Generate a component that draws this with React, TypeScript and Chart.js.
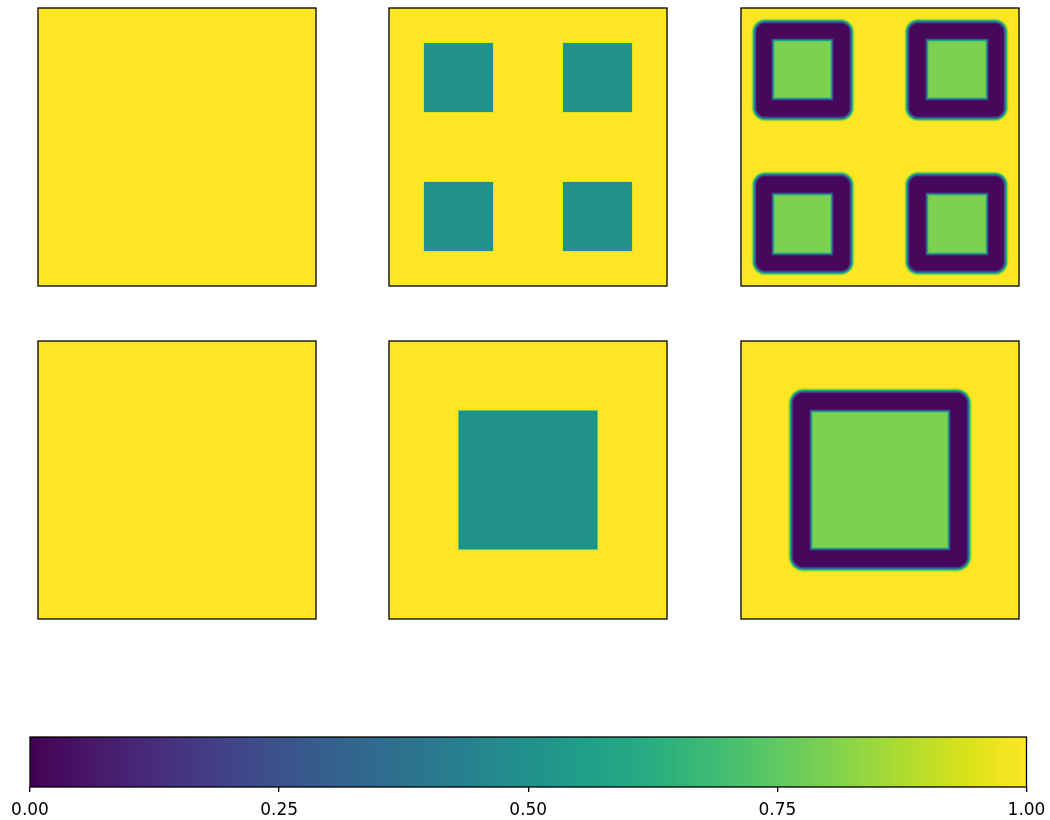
import React, { useEffect, useRef } from "react";
import { Chart, registerables } from "chart.js";

Chart.register(...registerables);

// Viridis colour stops, evenly spaced over [0, 1]
const VIRIDIS_STOPS = [
  "#440154", "#48186a", "#472d7b", "#424086", "#3b528b", "#33638d",
  "#2c728e", "#26828e", "#21918c", "#1fa088", "#28ae80", "#3fbc73",
  "#5ec962", "#84d44b", "#addc30", "#d8e219", "#fde725",
];

// Field levels
const BACKGROUND_LEVEL = 1.0;
const BLOCK_LEVEL = 0.5;
const SHELL_LEVEL = 0.02;
const SHELL_CORE_LEVEL = 0.8;

// Block extents (fractions of the domain): four blocks, or one centred block
const QUAD_BLOCK_EDGES = [[0.125, 0.375], [0.625, 0.875]];
const CENTRE_BLOCK_EDGES = [[0.25, 0.75]];

// Shell extents: dark rounded outer band and light inner core
const QUAD_SHELL_OUTER = [[0.047, 0.399], [0.597, 0.953]];
const QUAD_SHELL_INNER = [[0.115, 0.327], [0.669, 0.885]];
const CENTRE_SHELL_OUTER = [[0.179, 0.821]];
const CENTRE_SHELL_INNER = [[0.252, 0.748]];
const QUAD_SHELL_CORNER = 0.04;
const CENTRE_SHELL_CORNER = 0.045;

// Edge softness of each kind of region
const BLOCK_SOFT = 0.003;
const SHELL_OUTER_SOFT = 0.024;
const SHELL_INNER_SOFT = 0.016;

// Panel placement on the page (left, top) and size
const PANEL_LEFTS = [38, 389, 741];
const PANEL_TOPS = [8, 341];
const PANEL_SIZE = 278;

// Colour bar
const COLORBAR_TICKS = [0, 0.25, 0.5, 0.75, 1];
const COLORBAR_BOX = { left: 30, right: 1026.5, top: 737, bottom: 787 };

type Layer = { x: number[]; y: number[]; level: number; radius: number; soft: number };

function gridLayers(edges: number[][], level: number, radius: number, soft: number): Layer[] {
  const out: Layer[] = [];
  for (const ye of edges) for (const xe of edges) out.push({ x: xe, y: ye, level, radius, soft });
  return out;
}

const PANEL_LAYERS: Layer[][] = [
  [],
  gridLayers(QUAD_BLOCK_EDGES, BLOCK_LEVEL, 0, BLOCK_SOFT),
  [
    ...gridLayers(QUAD_SHELL_OUTER, SHELL_LEVEL, QUAD_SHELL_CORNER, SHELL_OUTER_SOFT),
    ...gridLayers(QUAD_SHELL_INNER, SHELL_CORE_LEVEL, 0, SHELL_INNER_SOFT),
  ],
  [],
  gridLayers(CENTRE_BLOCK_EDGES, BLOCK_LEVEL, 0, BLOCK_SOFT),
  [
    ...gridLayers(CENTRE_SHELL_OUTER, SHELL_LEVEL, CENTRE_SHELL_CORNER, SHELL_OUTER_SOFT),
    ...gridLayers(CENTRE_SHELL_INNER, SHELL_CORE_LEVEL, 0, SHELL_INNER_SOFT),
  ],
];

// 256-entry lookup table interpolated between the viridis stops
const LUT: number[][] = (() => {
  const rgb = VIRIDIS_STOPS.map((h) => [1, 3, 5].map((i) => parseInt(h.slice(i, i + 2), 16)));
  const table: number[][] = [];
  for (let k = 0; k < 256; k++) {
    const t = (k / 255) * (rgb.length - 1);
    const i = Math.min(Math.floor(t), rgb.length - 2);
    const f = t - i;
    table.push([0, 1, 2].map((c) => Math.round(rgb[i][c] + (rgb[i + 1][c] - rgb[i][c]) * f)));
  }
  return table;
})();

function colourOf(v: number): number[] {
  const k = Math.max(0, Math.min(255, Math.round(v * 255)));
  return LUT[k];
}

function coverage(u: number, v: number, L: Layer): number {
  const cx = (L.x[0] + L.x[1]) / 2;
  const cy = (L.y[0] + L.y[1]) / 2;
  const hx = (L.x[1] - L.x[0]) / 2 - L.radius;
  const hy = (L.y[1] - L.y[0]) / 2 - L.radius;
  const dx = Math.abs(u - cx) - hx;
  const dy = Math.abs(v - cy) - hy;
  const outside = Math.hypot(Math.max(dx, 0), Math.max(dy, 0));
  const inside = Math.min(Math.max(dx, dy), 0);
  const d = outside + inside - L.radius;
  const t = Math.max(0, Math.min(1, 0.5 - d / L.soft));
  return t * t * (3 - 2 * t);
}

function fieldValue(u: number, v: number, layers: Layer[]): number {
  let val = BACKGROUND_LEVEL;
  for (const L of layers) {
    const a = coverage(u, v, L);
    if (a > 0) val += (L.level - val) * a;
  }
  return val;
}

function fieldPlugin(layers: Layer[]) {
  return {
    id: "fieldImage",
    beforeDatasetsDraw(chart: any) {
      const { ctx, chartArea, scales } = chart;
      const w = Math.round(chartArea.right - chartArea.left);
      const h = Math.round(chartArea.bottom - chartArea.top);
      const off = document.createElement("canvas");
      off.width = w;
      off.height = h;
      const octx = off.getContext("2d")!;
      const img = octx.createImageData(w, h);
      const us: number[] = [];
      for (let i = 0; i < w; i++) us.push(scales.x.getValueForPixel(chartArea.left + i + 0.5));
      for (let j = 0; j < h; j++) {
        const v = scales.y.getValueForPixel(chartArea.top + j + 0.5);
        for (let i = 0; i < w; i++) {
          const c = colourOf(fieldValue(us[i], v, layers));
          const p = (j * w + i) * 4;
          img.data[p] = c[0];
          img.data[p + 1] = c[1];
          img.data[p + 2] = c[2];
          img.data[p + 3] = 255;
        }
      }
      octx.putImageData(img, 0, 0);
      ctx.save();
      ctx.drawImage(off, chartArea.left, chartArea.top);
      ctx.lineWidth = 1.3;
      ctx.strokeStyle = "#000";
      ctx.strokeRect(chartArea.left, chartArea.top, w, h);
      ctx.restore();
    },
  };
}

const colorbarPlugin = {
  id: "colorbarStrip",
  beforeDatasetsDraw(chart: any) {
    const { ctx, chartArea, scales } = chart;
    ctx.save();
    for (let px = Math.floor(chartArea.left); px < Math.ceil(chartArea.right); px++) {
      const c = colourOf(scales.x.getValueForPixel(px + 0.5));
      ctx.fillStyle = `rgb(${c[0]},${c[1]},${c[2]})`;
      const x0 = Math.max(px, chartArea.left);
      const x1 = Math.min(px + 1, chartArea.right);
      ctx.fillRect(x0, chartArea.top, x1 - x0, chartArea.bottom - chartArea.top);
    }
    ctx.lineWidth = 1.3;
    ctx.strokeStyle = "#000";
    ctx.strokeRect(chartArea.left, chartArea.top, chartArea.right - chartArea.left, chartArea.bottom - chartArea.top);
    ctx.restore();
  },
};

function Panel({ left, top, layers }: { left: number; top: number; layers: Layer[] }) {
  const ref = useRef<HTMLCanvasElement>(null);
  const pad = 2;
  const size = PANEL_SIZE + pad * 2;
  useEffect(() => {
    const chart = new Chart(ref.current!, {
      type: "scatter",
      data: { datasets: [{ data: [] }] },
      options: {
        animation: false,
        responsive: false,
        devicePixelRatio: 1,
        layout: { padding: pad },
        plugins: { legend: { display: false }, tooltip: { enabled: false } },
        scales: {
          x: { type: "linear", min: 0, max: 1, display: false },
          y: { type: "linear", min: 0, max: 1, reverse: true, display: false },
        },
      },
      plugins: [fieldPlugin(layers)],
    });
    return () => chart.destroy();
  }, [layers]);
  return (
    <div style={{ position: "absolute", left: left - pad, top: top - pad, width: size, height: size }}>
      <canvas ref={ref} width={size} height={size} style={{ display: "block", width: size, height: size }} />
    </div>
  );
}

function Colorbar() {
  const ref = useRef<HTMLCanvasElement>(null);
  const canvasTop = 728;
  const height = 820 - canvasTop;
  const width = 1050;
  useEffect(() => {
    const chart = new Chart(ref.current!, {
      type: "scatter",
      data: { datasets: [{ data: [] }] },
      options: {
        animation: false,
        responsive: false,
        devicePixelRatio: 1,
        layout: {
          padding: {
            left: COLORBAR_BOX.left,
            right: width - COLORBAR_BOX.right,
            top: COLORBAR_BOX.top - canvasTop,
            bottom: 0,
          },
        },
        plugins: { legend: { display: false }, tooltip: { enabled: false } },
        scales: {
          x: {
            type: "linear",
            position: "bottom",
            min: 0,
            max: 1,
            afterBuildTicks: (scale: any) => {
              scale.ticks = COLORBAR_TICKS.map((value) => ({ value }));
            },
            afterFit: (scale: any) => {
              scale.height = 820 - COLORBAR_BOX.bottom;
              scale.paddingLeft = 0;
              scale.paddingRight = 0;
            },
            ticks: {
              color: "#000",
              padding: 8,
              maxRotation: 0,
              autoSkip: false,
              font: { family: "DejaVu Sans", size: 17 },
              callback: (v: any) => Number(v).toFixed(2),
            },
            grid: {
              display: true,
              drawOnChartArea: false,
              drawTicks: true,
              tickLength: 5,
              color: "#000",
              lineWidth: 1.3,
            },
            border: { display: false },
          },
          y: { type: "linear", min: 0, max: 1, display: false },
        },
      },
      plugins: [colorbarPlugin],
    });
    return () => chart.destroy();
  }, []);
  return (
    <div style={{ position: "absolute", left: 0, top: canvasTop, width, height }}>
      <canvas ref={ref} width={width} height={height} style={{ display: "block", width, height }} />
    </div>
  );
}

export default function App() {
  return (
    <div style={{ position: "absolute", left: 0, top: 0, width: 1050, height: 820, background: "#fff", overflow: "hidden" }}>
      {PANEL_TOPS.map((top, r) =>
        PANEL_LEFTS.map((left, c) => (
          <Panel key={`${r}-${c}`} left={left} top={top} layers={PANEL_LAYERS[r * 3 + c]} />
        ))
      )}
      <Colorbar />
    </div>
  );
}
